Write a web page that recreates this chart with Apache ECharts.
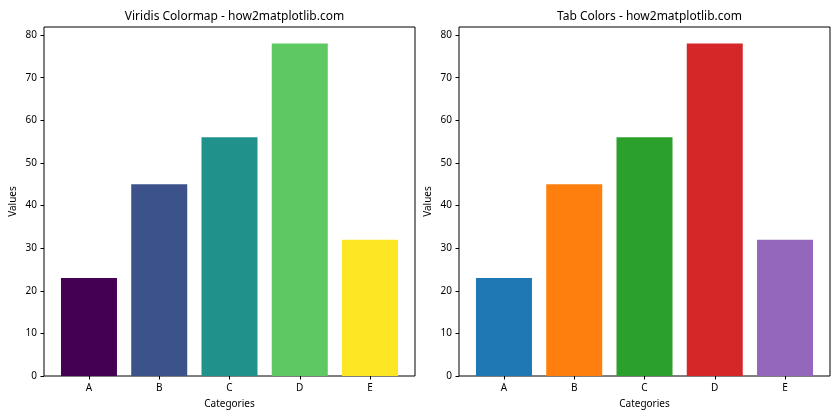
<!DOCTYPE html>
<html><head><meta charset="utf-8">
<script src="https://cdn.jsdelivr.net/npm/echarts@6/dist/echarts.min.js"></script>
<style>html,body{margin:0;padding:0;background:#fff}#c{width:840px;height:420px}</style>
</head><body><div id="c"></div>
<script>
const categories = ['A','B','C','D','E'];
const values = [23, 45, 56, 78, 32];
const viridisColors = ['#440154','#3b528b','#21918c','#5ec962','#fde725'];
const tabColors = ['#1f77b4','#ff7f0e','#2ca02c','#d62728','#9467bd'];
const yTicks = [0,10,20,30,40,50,60,70,80];
const titles = ['Viridis Colormap - how2matplotlib.com','Tab Colors - how2matplotlib.com'];

const FONT = '"Noto Sans", "Open Sans", sans-serif';
const chart = echarts.init(document.getElementById('c'), null, {renderer:'canvas'});
const grids = [
  {left:44, top:27, width:371, height:349, show:true, borderColor:'#000', borderWidth:1, backgroundColor:'transparent'},
  {left:459, top:27, width:371, height:349, show:true, borderColor:'#000', borderWidth:1, backgroundColor:'transparent'}
];
const idx = categories.map((c,i)=>i);
function xAxis(g){
  return {type:'value', gridIndex:g, min:-0.64, max:4.64, position:'bottom',
    name:'Categories', nameLocation:'middle', nameGap:23,
    nameTextStyle:{color:'#000', fontSize:10, fontFamily:FONT},
    axisLine:{show:false, onZero:false}, splitLine:{show:false},
    axisTick:{show:true, length:3.5, customValues:idx, lineStyle:{color:'#000'}},
    axisLabel:{show:true, customValues:idx, color:'#000', fontSize:10, fontFamily:FONT, margin:7,
      formatter:v=>categories[Math.round(v)] ?? ''}};
}
function yAxis(g){
  return {type:'value', gridIndex:g, min:0, max:81.9, position:'left',
    name:'Values', nameLocation:'middle', nameGap:26,
    nameTextStyle:{color:'#000', fontSize:10, fontFamily:FONT},
    axisLine:{show:false, onZero:false}, splitLine:{show:false},
    axisTick:{show:true, length:3.5, customValues:yTicks, lineStyle:{color:'#000'}},
    axisLabel:{show:true, customValues:yTicks, color:'#000', fontSize:10, fontFamily:FONT, margin:7}};
}
function series(g, colors){
  return {type:'bar', xAxisIndex:g, yAxisIndex:g, barWidth:56,
    data: values.map((v,i)=>({value:[i,v], itemStyle:{color:colors[i]}})),
    animation:false};
}
chart.setOption({
  animation:false,
  title: titles.map((t,i)=>({text:t, left: i===0 ? 229.5 : 644.5, top:6, textAlign:'center',
    textStyle:{fontSize:12, fontWeight:'normal', color:'#000', fontFamily:FONT}})),
  grid: grids,
  xAxis:[xAxis(0), xAxis(1)],
  yAxis:[yAxis(0), yAxis(1)],
  series:[series(0, viridisColors), series(1, tabColors)]
});
</script></body></html>
